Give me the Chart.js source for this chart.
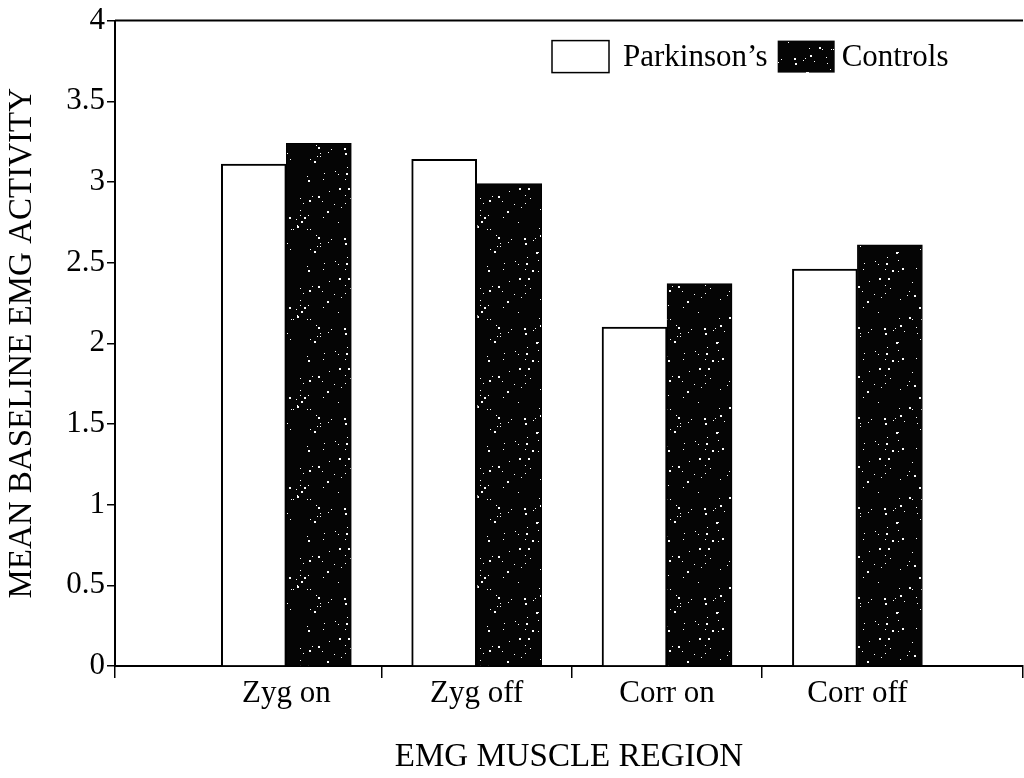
<!DOCTYPE html>
<html>
<head>
<meta charset="utf-8">
<script src="https://cdn.jsdelivr.net/npm/chart.js@4.4.1/dist/chart.umd.min.js"></script>
<style>
  html, body { margin: 0; padding: 0; background: #fff; }
  #wrap { width: 1024px; height: 778px; }
</style>
</head>
<body>
<div id="wrap"><canvas id="emgChart" width="1024" height="778"></canvas></div>
<script>
const categories = ['Zyg on', 'Zyg off', 'Corr on', 'Corr off'];
const parkinsonsValues = [3.11, 3.14, 2.10, 2.46];
const controlsValues = [3.24, 2.99, 2.37, 2.61];
const yTicks = [0, 0.5, 1, 1.5, 2, 2.5, 3, 3.5, 4];
const seriesNames = ['Parkinson\u2019s', 'Controls'];
const xTitle = 'EMG MUSCLE REGION';
const yTitle = 'MEAN BASELINE EMG ACTIVITY';

const serif = '"Liberation Serif", "Times New Roman", serif';

// dark fill with white speckles, like the printed controls bars
function speckle(ctx) {
    const c = document.createElement('canvas');
    c.width = 90; c.height = 90;
    const g = c.getContext('2d');
    g.fillStyle = '#050505';
    g.fillRect(0, 0, 90, 90);
    let s = 4242;
    const next = () => (s = (s * 16807) % 2147483647) / 2147483647;
    g.fillStyle = '#fff';
    for (let i = 0; i < 75; i++) {
        const x = Math.floor(next() * 90), y = Math.floor(next() * 90);
        const r = next() < 0.3 ? 2 : 1;
        g.fillRect(x, y, r, r);
    }
    return ctx.createPattern(c, 'repeat');
}

const boxLegend = {
    id: 'boxLegend',
    afterDraw(chart) {
        const { ctx, chartArea } = chart;
        ctx.save();
        // top frame line
        ctx.strokeStyle = '#000';
        ctx.lineWidth = 2;
        ctx.beginPath();
        ctx.moveTo(chartArea.left, chartArea.top);
        ctx.lineTo(chartArea.right, chartArea.top);
        ctx.stroke();

        ctx.font = '31px ' + serif;
        ctx.textBaseline = 'alphabetic';
        const gaps = [14, 7];
        let x = chartArea.left + 437;
        const top = chartArea.top + 20, h = 32, bw = 57;
        chart.data.datasets.forEach((ds, i) => {
            ctx.fillStyle = ds.backgroundColor;
            ctx.fillRect(x, top, bw, h);
            if (i === 0) { ctx.lineWidth = 1.5; ctx.strokeRect(x, top, bw, h); }
            x += bw + gaps[i];
            ctx.fillStyle = '#000';
            ctx.fillText(ds.label, x, top + 25);
            x += ctx.measureText(ds.label).width + 10;
        });
        ctx.restore();
    }
};

const canvas = document.getElementById('emgChart');
const ctx = canvas.getContext('2d');

new Chart(ctx, {
    type: 'bar',
    data: {
        datasets: [
            { label: seriesNames[0], data: categories.map((c, i) => ({ x: i + 1, y: parkinsonsValues[i] })), backgroundColor: '#fff', borderColor: '#000', borderWidth: 2, barThickness: 65 },
            { label: seriesNames[1], data: categories.map((c, i) => ({ x: i + 1, y: controlsValues[i] })), backgroundColor: speckle(ctx), borderColor: '#000', borderWidth: 1, barThickness: 65 }
        ]
    },
    options: {
        responsive: false,
        animation: false,
        layout: { padding: { top: 18, right: 1, left: 0, bottom: 0 } },
        plugins: { legend: { display: false }, tooltip: { enabled: false } },
        scales: {
            x: {
                type: 'linear', min: 0.1, max: 4.87, offset: false,
                afterBuildTicks: s => {
                    const vals = [s.min];
                    categories.forEach((c, i) => { if (i) vals.push(i + 0.5); vals.push(i + 1); });
                    vals.push(s.max);
                    s.ticks = vals.map(v => ({ value: v }));
                },
                afterFit: s => { s.height = 112; },
                border: { color: '#000', width: 2 },
                grid: {
                    offset: false, drawOnChartArea: false, tickLength: 12, lineWidth: 1.5,
                    color: c => (c.tick && Number.isInteger(c.tick.value)) ? 'rgba(0,0,0,0)' : '#000'
                },
                ticks: {
                    autoSkip: false, maxRotation: 0, padding: 0, color: '#000',
                    font: { family: serif, size: 31, lineHeight: 1 },
                    callback: v => Number.isInteger(v) && v >= 1 && v <= categories.length ? categories[v - 1] : ''
                },
                title: { display: true, text: xTitle, color: '#000', font: { family: serif, size: 33 }, padding: { top: 0, bottom: 1 } }
            },
            y: {
                min: 0, max: 4,
                afterBuildTicks: s => { s.ticks = yTicks.map(v => ({ value: v })); },
                afterFit: s => { s.width = 115; },
                border: { color: '#000', width: 2 },
                grid: { drawOnChartArea: false, tickLength: 8, lineWidth: 1.5, color: '#000' },
                ticks: { color: '#000', padding: 2, font: { family: serif, size: 31 }, callback: v => String(v) },
                title: { display: true, text: yTitle, color: '#000', font: { family: serif, size: 33 }, padding: { top: 3, bottom: 0 } }
            }
        }
    },
    plugins: [boxLegend]
});
</script>
</body>
</html>
